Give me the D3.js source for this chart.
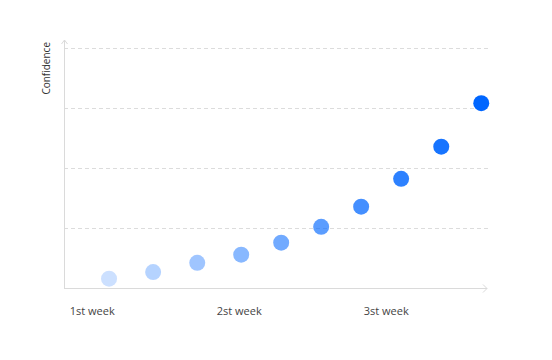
<!DOCTYPE html>
<html>
<head>
<meta charset="utf-8">
<script src="https://cdn.jsdelivr.net/npm/d3@7"></script>
<style>
  html, body { margin: 0; padding: 0; background: #fff; }
  svg { display: block; font-family: "Open Sans", "Noto Sans", sans-serif; }
</style>
</head>
<body>
<svg id="chart" width="552" height="360"></svg>
<script>
// ---- data ----
const weekLabels = ["1st week", "2st week", "3st week"];
const weekTicks = [1, 2, 3];
const pointWeeks = [1.118, 1.418, 1.718, 2.017, 2.289, 2.561, 2.833, 3.105, 3.378, 3.650];
const confidence = [0.155, 0.265, 0.42, 0.555, 0.755, 1.02, 1.355, 1.82, 2.355, 3.08];
const gridValues = [1, 2, 3, 4];
const yLabel = "Confidence";

// ---- layout ----
const plotLeft = 64, plotRight = 490, plotTop = 48, plotBottom = 288;
const svg = d3.select("#chart");

const x = d3.scaleLinear().domain([1, 3]).range([91.7, 385.7]);
const y = d3.scaleLinear().domain([0, 4]).range([plotBottom, plotTop]);
const opacity = d3.scaleLinear().domain([0, pointWeeks.length - 1]).range([0.2, 1]);

// grid lines
svg.append("g")
  .selectAll("line")
  .data(gridValues)
  .join("line")
  .attr("x1", plotLeft).attr("x2", plotRight)
  .attr("y1", d => y(d) + 0.5).attr("y2", d => y(d) + 0.5)
  .attr("stroke", "#dcdcdc")
  .attr("stroke-dasharray", "4,3");

// axes lines with arrows
const axisColor = "#dadada";
svg.append("line")
  .attr("x1", plotLeft + 0.5).attr("x2", plotLeft + 0.5)
  .attr("y1", 40).attr("y2", plotBottom)
  .attr("stroke", axisColor);
svg.append("path")
  .attr("d", `M${plotLeft - 3 + 0.5},44 L${plotLeft + 0.5},40 L${plotLeft + 3.5},44`)
  .attr("fill", "none").attr("stroke", axisColor);
svg.append("line")
  .attr("x1", plotLeft).attr("x2", 487)
  .attr("y1", plotBottom + 0.5).attr("y2", plotBottom + 0.5)
  .attr("stroke", axisColor);
svg.append("path")
  .attr("d", `M483,${plotBottom - 3.5} L487,${plotBottom + 0.5} L483,${plotBottom + 4.5}`)
  .attr("fill", "none").attr("stroke", axisColor);

// x axis labels
const xAxis = d3.axisBottom(x)
  .tickValues(weekTicks)
  .tickFormat((d, i) => weekLabels[i])
  .tickSize(0)
  .tickPadding(19);
const gx = svg.append("g").attr("transform", `translate(0,${plotBottom})`).call(xAxis);
gx.select(".domain").remove();
gx.selectAll("text")
  .attr("fill", "#444")
  .style("font-size", "11px")
  .style("font-family", "'Open Sans', sans-serif");

// y label
svg.append("text")
  .attr("transform", "translate(50,42) rotate(-90)")
  .attr("text-anchor", "end")
  .attr("fill", "#333")
  .style("font-size", "10px")
  .text(yLabel);

// points
svg.append("g")
  .selectAll("circle")
  .data(pointWeeks)
  .join("circle")
  .attr("cx", d => x(d))
  .attr("cy", (d, i) => y(confidence[i]))
  .attr("r", 8)
  .attr("fill", "#0066ff")
  .attr("fill-opacity", (d, i) => opacity(i));
</script>
</body>
</html>
